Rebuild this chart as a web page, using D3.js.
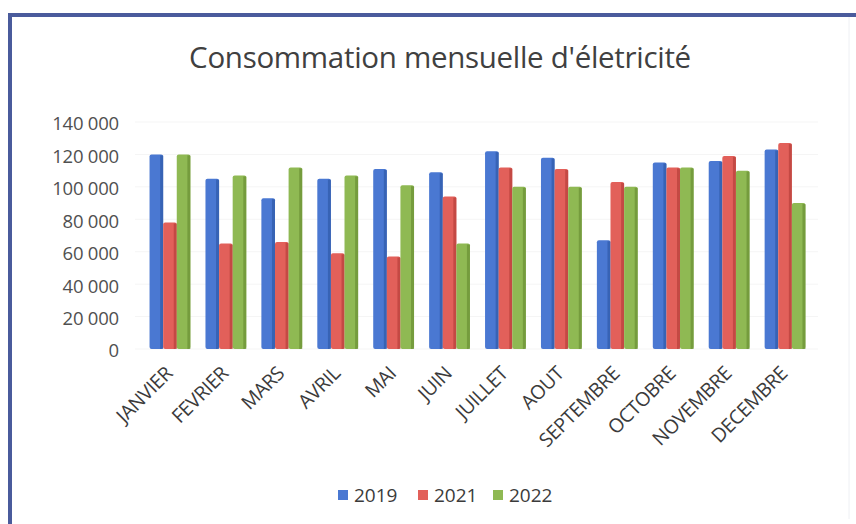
<!DOCTYPE html>
<html><head><meta charset="utf-8">
<script src="https://cdn.jsdelivr.net/npm/d3@7"></script>
<style>body{margin:0;background:#fff}svg{display:block}</style>
</head><body><svg id="c" width="856" height="524"></svg>
<script>
const months = ["JANVIER","FEVRIER","MARS","AVRIL","MAI","JUIN","JUILLET","AOUT","SEPTEMBRE","OCTOBRE","NOVEMBRE","DECEMBRE"];
const seriesNames = ["2019","2021","2022"];
const v2019 = [120000,105000,93000,105000,111000,109000,122000,118000,67000,115000,116000,123000];
const v2021 = [78000,65000,66000,59000,57000,94000,112000,111000,103000,112000,119000,127000];
const v2022 = [120000,107000,112000,107000,101000,65000,100000,100000,100000,112000,110000,90000];
const yTicks = [0,20000,40000,60000,80000,100000,120000,140000];
const colors = ["#4a78d2","#e2605a","#8fb953"];
const sides = ["#2f5aa8","#b8403b","#6a9035"];
const values = [v2019, v2021, v2022];

const svg = d3.select("#c");
const font = "'Open Sans', 'Liberation Sans', sans-serif";

// frame
svg.append("line").attr("x1",10).attr("x2",856).attr("y1",15).attr("y2",15).attr("stroke","#4a5b9c").attr("stroke-width",4);
svg.append("line").attr("x1",10).attr("x2",10).attr("y1",13).attr("y2",524).attr("stroke","#4a5b9c").attr("stroke-width",4);
svg.append("line").attr("x1",849).attr("x2",849).attr("y1",17).attr("y2",519).attr("stroke","#eef0f4").attr("stroke-width",1);

svg.append("text").attr("x",440).attr("y",68).attr("text-anchor","middle")
  .attr("font-family",font).attr("font-size",29.5).attr("fill","#404040").attr("letter-spacing",-0.3)
  .text("Consommation mensuelle d'életricité");

const x = d3.scaleBand().domain(months).range([142,813]).paddingInner(0.27).paddingOuter(0.135);
const y = d3.scaleLinear().domain([0,140000]).range([349,122]);
const xs = d3.scaleBand().domain(seriesNames).range([0,x.bandwidth()]).padding(0);

// faint gridlines
svg.append("g").selectAll("line").data(yTicks).join("line")
  .attr("x1",135).attr("x2",818).attr("y1",d=>y(d)).attr("y2",d=>y(d))
  .attr("stroke","#f5f5f5");

// y axis labels
const yAxis = d3.axisLeft(y).tickValues(yTicks).tickSize(0).tickPadding(0)
  .tickFormat(d => d3.format(",")(d).replace(/,/g," "));
const yg = svg.append("g").attr("transform","translate(119,2)").call(yAxis);
yg.select(".domain").remove();
yg.selectAll("text").attr("font-family",font).attr("font-size",18.5).attr("fill","#505050").attr("letter-spacing",-0.2);

// bars
const groups = svg.append("g").selectAll("g").data(months).join("g")
  .attr("transform", d => `translate(${x(d)},0)`);
seriesNames.forEach((s, si) => {
  const bw = xs.bandwidth();
  groups.append("rect")
    .attr("x", xs(s)).attr("width", bw)
    .attr("y", (d,i) => y(values[si][i]))
    .attr("height", (d,i) => y(0) - y(values[si][i]))
    .attr("rx",2)
    .attr("fill", colors[si]);
  groups.append("rect")
    .attr("x", xs(s) + bw - 3).attr("width", 3)
    .attr("y", (d,i) => y(values[si][i]) + 1)
    .attr("height", (d,i) => y(0) - y(values[si][i]) - 1)
    .attr("fill", sides[si]).attr("opacity",0.7);
});

// x labels
const xAxis = d3.axisBottom(x).tickSize(0).tickPadding(0);
const xg = svg.append("g").attr("transform","translate(-6,365)").call(xAxis);
xg.select(".domain").remove();
xg.selectAll("text").attr("font-family",font).attr("font-size",19.5).attr("fill","#3b3b3b").attr("letter-spacing",-0.4)
  .attr("text-anchor","end").attr("dy","0.7em").attr("transform","rotate(-45)");

// legend
const legX = [338, 418, 493];
const lg = svg.append("g").selectAll("g").data(seriesNames).join("g")
  .attr("transform",(d,i)=>`translate(${legX[i]},495)`);
lg.append("rect").attr("x",0).attr("y",-5).attr("width",10).attr("height",10).attr("fill",(d,i)=>colors[i]);
lg.append("text").attr("x",16).attr("y",0).attr("dy","0.35em").attr("font-family",font).attr("font-size",19).attr("fill","#3b3b3b").text(d=>d);
</script></body></html>
